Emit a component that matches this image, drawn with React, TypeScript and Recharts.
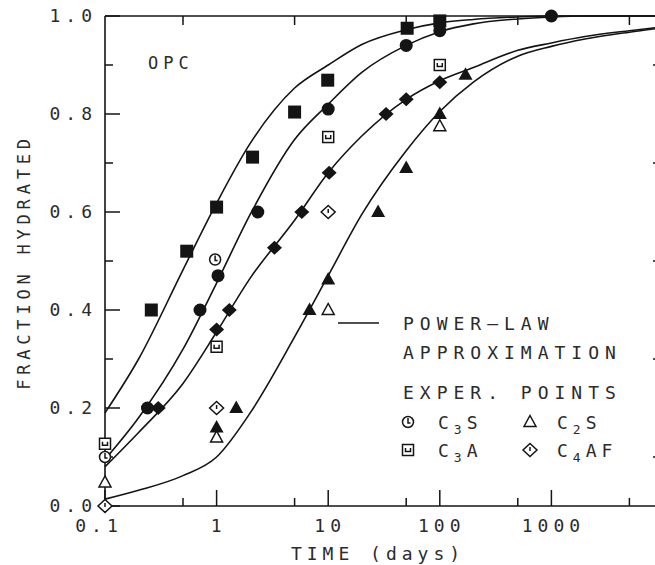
import React from "react";
import { ComposedChart, Line, Scatter, XAxis, YAxis } from "recharts";

// power-law curves at fixed times (days)
const curveTimes = [0.1, 0.2, 0.5, 1, 2, 5, 10, 20, 50, 100, 200, 500, 1000, 2000, 5000, 10000];
const c3aCurve = [0.19, 0.3, 0.482, 0.618, 0.74, 0.853, 0.9, 0.942, 0.972, 0.986, 0.993, 0.998, 1.0, 1.0, 1.0, 1.0];
const c3sCurve = [0.095, 0.18, 0.32, 0.455, 0.595, 0.748, 0.82, 0.885, 0.94, 0.968, 0.984, 0.994, 0.998, 1.0, 1.0, 1.0];
const c4afCurve = [0.08, 0.15, 0.25, 0.355, 0.465, 0.583, 0.68, 0.755, 0.83, 0.868, 0.895, 0.93, 0.945, 0.958, 0.97, 0.978];
const c2sCurve = [0.014, 0.032, 0.062, 0.1, 0.19, 0.345, 0.47, 0.595, 0.725, 0.805, 0.865, 0.918, 0.938, 0.953, 0.967, 0.976];

// measured points [time, fraction]
const c3aFilled: [number, number][] = [[0.26, 0.40], [0.54, 0.52], [1.0, 0.61], [2.1, 0.712], [5.0, 0.804], [9.9, 0.869], [51, 0.975], [100, 0.99]];
const c3sFilled: [number, number][] = [[0.24, 0.20], [0.71, 0.40], [1.03, 0.47], [2.34, 0.60], [10, 0.81], [50, 0.94], [100, 0.97], [1000, 1.0]];
const c4afFilled: [number, number][] = [[0.3, 0.20], [1.0, 0.36], [1.3, 0.40], [3.3, 0.527], [5.8, 0.60], [10.2, 0.68], [33, 0.80], [50, 0.83], [100, 0.865]];
const c2sFilled: [number, number][] = [[1.0, 0.16], [1.5, 0.20], [6.8, 0.40], [10, 0.462], [28, 0.60], [50, 0.69], [100, 0.80], [170, 0.88]];

const c3sOpen: [number, number][] = [[0.1, 0.10], [0.97, 0.503]];
const c3aOpen: [number, number][] = [[0.1, 0.127], [1, 0.325], [10, 0.753], [100, 0.90]];
const c2sOpen: [number, number][] = [[0.1, 0.048], [1, 0.14], [10, 0.40], [100, 0.775]];
const c4afOpen: [number, number][] = [[0.1, 0.0], [1, 0.20], [10, 0.60]];

const xMajor = [0.1, 1, 10, 100, 1000, 10000];
const xMinor = [0.5, 5, 50, 500, 5000];
const xTickLabels: Record<string, string> = { "0.1": "0.1", "1": "1", "10": "10", "100": "100", "1000": "1000" };
const yMajor = [0, 0.2, 0.4, 0.6, 0.8, 1.0];
const yMinor = [0.1, 0.3, 0.5, 0.7, 0.9];
const yTickLabels: Record<string, string> = { "0": "0.0", "0.2": "0.2", "0.4": "0.4", "0.6": "0.6", "0.8": "0.8", "1": "1.0" };

const X_MIN = 0.1;
const X_MAX = 10000;

// plot box inside the svg
const PLOT = { left: 105, top: 16, width: 558, height: 490 };

const INK = "#141414";
const TEXT = "#2b2b2b";
const FONT = "'DejaVu Sans Mono', monospace";

const curve = (ys: number[]) => curveTimes.map((x, i) => ({ x, y: ys[i] }));
const pts = (p: [number, number][]) => p.map(([x, y]) => ({ x, y }));

// minor inward ticks (majors come from the axes' own tick lines)
function MinorTicks() {
  const { left, top, width, height } = PLOT;
  const lx0 = Math.log10(X_MIN);
  const lx1 = Math.log10(X_MAX);
  const px = (v: number) => left + ((Math.log10(v) - lx0) / (lx1 - lx0)) * width;
  const py = (v: number) => top + (1 - v) * height;
  const bottom = top + height;
  const right = left + width;
  const segs: [number, number, number, number][] = [];
  xMinor.forEach((v) => {
    segs.push([px(v), bottom, px(v), bottom - 8]);
    segs.push([px(v), top, px(v), top + 9]);
  });
  yMinor.forEach((v) => {
    segs.push([left, py(v), left + 8, py(v)]);
    segs.push([right, py(v), right - 10, py(v)]);
  });
  const d = segs.map(([a, b, c, e]) => `M${a.toFixed(1)},${b.toFixed(1)}L${c.toFixed(1)},${e.toFixed(1)}`).join("");
  return <path d={d} stroke={INK} strokeWidth={1.5} fill="none" />;
}

function BottomLabel(props: any) {
  const { x, y, payload } = props;
  const label = xTickLabels[String(payload.value)];
  if (!label) return <g />;
  return (
    <text x={x + (payload.value === 0.1 ? -6 : 2)} y={y + 26} textAnchor="middle" fontFamily={FONT} fontSize={18} letterSpacing={5} fill={TEXT}>
      {label}
    </text>
  );
}

function LeftLabel(props: any) {
  const { x, y, payload } = props;
  const label = yTickLabels[String(payload.value)];
  if (!label) return <g />;
  return (
    <text x={x - 8} y={y + 6} textAnchor="end" fontFamily={FONT} fontSize={18} letterSpacing={5} fill={TEXT}>
      {label}
    </text>
  );
}

const NoLabel = () => <g />;

// marker shapes
const FilledSquare = ({ cx, cy }: any) => <rect x={cx - 6.5} y={cy - 6.5} width={13} height={13} fill={INK} />;
const FilledCircle = ({ cx, cy }: any) => <circle cx={cx} cy={cy} r={6.5} fill={INK} />;
const FilledDiamond = ({ cx, cy }: any) => (
  <polygon points={`${cx},${cy - 7} ${cx + 7.5},${cy} ${cx},${cy + 7} ${cx - 7.5},${cy}`} fill={INK} />
);
const FilledTriangle = ({ cx, cy }: any) => (
  <polygon points={`${cx},${cy - 7.5} ${cx + 7},${cy + 5} ${cx - 7},${cy + 5}`} fill={INK} />
);

const OpenCircle = ({ cx, cy }: any) => (
  <g fill="none" stroke={INK} strokeWidth={1.5}>
    <circle cx={cx} cy={cy} r={5.5} fill="#fff" />
    <path d={`M${cx},${cy - 4} V${cy + 1} H${cx + 2.5}`} />
  </g>
);
const OpenSquare = ({ cx, cy }: any) => (
  <g fill="none" stroke={INK} strokeWidth={1.5}>
    <rect x={cx - 5.5} y={cy - 5.5} width={11} height={11} fill="#fff" />
    <path d={`M${cx - 2.5},${cy - 2} V${cy + 1.5} H${cx + 2.5} V${cy - 2}`} />
  </g>
);
const OpenDiamond = ({ cx, cy }: any) => (
  <g fill="none" stroke={INK} strokeWidth={1.5}>
    <polygon points={`${cx},${cy - 6.5} ${cx + 7},${cy} ${cx},${cy + 6.5} ${cx - 7},${cy}`} fill="#fff" />
    <path d={`M${cx},${cy - 3} V${cy + 1}`} />
  </g>
);
const OpenTriangle = ({ cx, cy }: any) => (
  <polygon points={`${cx},${cy - 6.5} ${cx + 6},${cy + 4.5} ${cx - 6},${cy + 4.5}`} fill="#fff" stroke={INK} strokeWidth={1.5} />
);

const Sub = ({ base, sub, rest }: { base: string; sub: string; rest: string }) => (
  <>
    <tspan>{base}</tspan>
    <tspan dy={5} fontSize={13}>{sub}</tspan>
    <tspan dy={-5}>{rest}</tspan>
  </>
);

function Annotations() {
  const txt = { fontFamily: FONT, fontSize: 18, letterSpacing: 6, fill: TEXT };
  return (
    <g>
      <MinorTicks />
      <text x={148} y={69} {...txt} fontSize={17} letterSpacing={5}>OPC</text>
      <text transform="translate(30,262) rotate(-90)" textAnchor="middle" fontFamily={FONT} fontSize={17} letterSpacing={4.8} fill={TEXT}>
        FRACTION HYDRATED
      </text>
      <text x={378} y={560} textAnchor="middle" fontFamily={FONT} fontSize={18} letterSpacing={5} fill={TEXT}>TIME (days)</text>

      <line x1={338} x2={379} y1={323} y2={323} stroke={INK} strokeWidth={1.5} />
      <text x={403} y={330} {...txt}>POWER—LAW</text>
      <text x={403} y={359} {...txt}>APPROXIMATION</text>
      <text x={403} y={399} {...txt}>EXPER. POINTS</text>

      <OpenCircle cx={408} cy={422} />
      <text x={438} y={429} {...txt} letterSpacing={5}><Sub base="C" sub="3" rest="S" /></text>
      <OpenTriangle cx={530} cy={422} />
      <text x={557} y={429} {...txt} letterSpacing={5}><Sub base="C" sub="2" rest="S" /></text>
      <OpenSquare cx={408} cy={450} />
      <text x={438} y={457} {...txt} letterSpacing={5}><Sub base="C" sub="3" rest="A" /></text>
      <OpenDiamond cx={530} cy={450} />
      <text x={557} y={457} {...txt} letterSpacing={5}><Sub base="C" sub="4" rest="AF" /></text>
    </g>
  );
}

export default function App() {
  const lineProps = { type: "monotone" as const, dataKey: "y", dot: false, stroke: INK, strokeWidth: 1.6, isAnimationActive: false };
  const frame = { stroke: INK, strokeWidth: 1.6 };
  const tickStroke = { stroke: INK, strokeWidth: 1.5 };
  return (
    <div style={{ position: "absolute", left: 0, top: 0, width: 655, height: 565, overflow: "hidden", background: "#fff" }}>
      <ComposedChart width={PLOT.left + PLOT.width + 10} height={565} margin={{ top: 0, right: 0, bottom: 0, left: 0 }}>
        {/* negative tick sizes turn the axes' own tick lines inward */}
        <XAxis
          xAxisId={0}
          dataKey="x"
          type="number"
          scale="log"
          domain={[X_MIN, X_MAX]}
          ticks={xMajor}
          interval={0}
          height={565 - PLOT.top - PLOT.height}
          tickSize={-16}
          tickMargin={16}
          tickLine={tickStroke}
          axisLine={frame}
          tick={(p: any) => <BottomLabel {...p} />}
        />
        <XAxis
          xAxisId="top"
          orientation="top"
          type="number"
          scale="log"
          domain={[X_MIN, X_MAX]}
          ticks={xMajor}
          interval={0}
          height={PLOT.top}
          tickSize={-16}
          tickLine={tickStroke}
          axisLine={frame}
          tick={NoLabel}
        />
        <YAxis
          yAxisId={0}
          dataKey="y"
          type="number"
          domain={[0, 1]}
          ticks={yMajor}
          interval={0}
          width={PLOT.left}
          tickSize={-15}
          tickMargin={15}
          tickLine={tickStroke}
          axisLine={frame}
          tick={(p: any) => <LeftLabel {...p} />}
        />
        <YAxis
          yAxisId="right"
          orientation="right"
          type="number"
          domain={[0, 1]}
          ticks={yMajor}
          interval={0}
          width={10}
          tickSize={-17}
          tickLine={tickStroke}
          axisLine={frame}
          tick={NoLabel}
        />

        <Line data={curve(c3aCurve)} {...lineProps} />
        <Line data={curve(c3sCurve)} {...lineProps} />
        <Line data={curve(c4afCurve)} {...lineProps} />
        <Line data={curve(c2sCurve)} {...lineProps} />

        <Scatter data={pts(c3aFilled)} dataKey="y" shape={FilledSquare} isAnimationActive={false} />
        <Scatter data={pts(c3sFilled)} dataKey="y" shape={FilledCircle} isAnimationActive={false} />
        <Scatter data={pts(c4afFilled)} dataKey="y" shape={FilledDiamond} isAnimationActive={false} />
        <Scatter data={pts(c2sFilled)} dataKey="y" shape={FilledTriangle} isAnimationActive={false} />
        <Scatter data={pts(c2sOpen)} dataKey="y" shape={OpenTriangle} isAnimationActive={false} />
        <Scatter data={pts(c4afOpen)} dataKey="y" shape={OpenDiamond} isAnimationActive={false} />
        <Scatter data={pts(c3sOpen)} dataKey="y" shape={OpenCircle} isAnimationActive={false} />
        <Scatter data={pts(c3aOpen)} dataKey="y" shape={OpenSquare} isAnimationActive={false} />

        <Annotations />
      </ComposedChart>
    </div>
  );
}
